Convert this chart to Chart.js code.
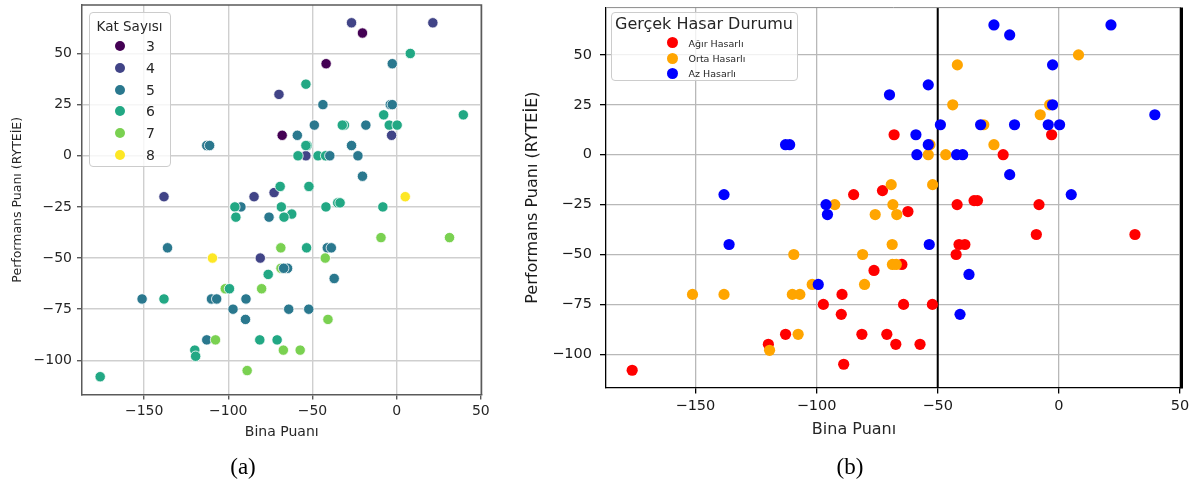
<!DOCTYPE html>
<html>
<head>
<meta charset="utf-8">
<script src="https://cdn.jsdelivr.net/npm/chart.js@4.4.1/dist/chart.umd.min.js"></script>
<style>
  html, body { margin: 0; padding: 0; background: #ffffff; }
  body { position: relative; width: 1195px; height: 488px; overflow: hidden; font-family: "DejaVu Sans", sans-serif; }
  canvas { position: absolute; }
  #chartA { left: 0; top: -20px; }
  #chartB { left: 510px; top: -20px; }
  .legend { position: absolute; box-sizing: border-box; background: rgba(255,255,255,0.8); border: 1px solid #cccccc; border-radius: 4px; }
  .legend .t { position: absolute; white-space: nowrap; transform: translate(-50%, -50%); color: #262626; }
  .legend .m { position: absolute; border-radius: 50%; }
  .legend .l { position: absolute; white-space: nowrap; transform: translateY(-50%); color: #262626; }
  .caption { position: absolute; font-family: "Liberation Serif", "DejaVu Serif", serif; font-size: 23px; color: #000; transform: translate(-50%, -50%); white-space: nowrap; }
  .axtitle { position: absolute; font-size: 16px; color: #262626; transform: translate(-50%, -50%); white-space: nowrap; }
</style>
</head>
<body>
<canvas id="chartA" width="500" height="480"></canvas>
<canvas id="chartB" width="685" height="480"></canvas>
<div class="legend" id="legendA" style="left:89px;top:12px;width:82px;height:155px;"></div>
<div class="legend" id="legendB" style="left:611px;top:12px;width:187px;height:69px;"></div>
<div class="axtitle" style="left:854px;top:428px;">Bina Puanı</div>
<div class="caption" style="left:243px;top:467px;">(a)</div>
<div class="caption" style="left:850px;top:467px;">(b)</div>
<script>
// Building score (x) and performance score (y) per building, grouped by observed damage state.
// Ağır Hasarlı
const agirX = [-84.7, -72.8, -68, -3, -23, -62.3, -42, -35, -33.6, -8.2, -41.2, -38.8, -42.4, -9.3, 31.4,
               -64.8, -64.1, -52.2, -71, -67.3, -57.3, -76.3, -89.5, -97.2, -89.8, -112.8, -81.3, -119.9, -88.8, -176.1];
const agirY = [-20, -18, 10, 10, 0, -28.5, -25, -23, -23, -25, -45, -45, -50, -40, -40,
               -55, -75, -75, -90, -95, -95, -58, -70, -75, -80, -90, -90, -95, -105, -108];
const agirKat = [4, 4, 3, 4, 5, 6, 6, 6, 6, 6, 5, 5, 7, 7, 7,
                 5, 5, 5, 6, 7, 7, 6, 5, 5, 5, 5, 6, 6, 7, 6];
// Orta Hasarlı
const ortaX = [-69.2, 8.1, -41.9, -43.8, -3.8, -7.7, -31, -53.2, -53.9, -46.7, -26.8, -52.1, -68.5, -66.9, -75.8,
               -68.8, -68.7, -67.1, -92.5, -109.4, -81, -101.8, -80.2, -151.2, -138.2, -110, -106.9, -107.6, -119.4];
const ortaY = [-15, 50, 45, 25, 25, 20, 15, 5, 0, 0, 5, -15, -25, -30, -30,
               -45, -55, -55, -25, -50, -50, -65, -65, -70, -70, -70, -70, -90, -98];
const ortaKat = [6, 6, 3, 5, 5, 6, 6, 6, 4, 6, 5, 6, 6, 6, 5,
                 7, 7, 5, 5, 8, 4, 7, 7, 5, 6, 5, 5, 7, 6];
// Az Hasarlı
const azX = [-138.2, -112.8, -111.1, -69.9, -26.8, -20.3, 21.5, -2.6, -53.9, -2.6, 39.6, -48.9, -32.3, -18.3, -4.4,
             0.3, -59, -53.9, -58.6, -42.2, -39.7, -20.3, 5.1, -53.5, -37.1, -40.8, -96.1, -95.5, -136.1, -99.3];
const azY = [-20, 5, 5, 30, 65, 60, 65, 45, 35, 25, 20, 15, 15, 15, 15,
             15, 10, 5, 0, 0, 0, -10, -20, -45, -60, -80, -25, -30, -45, -65];
const azKat = [4, 5, 5, 4, 4, 3, 4, 5, 6, 5, 6, 5, 6, 5, 6,
               6, 5, 6, 6, 6, 5, 5, 8, 6, 5, 7, 6, 6, 5, 6];

const katLevels = [3, 4, 5, 6, 7, 8];
const katColors = ['#440154', '#414487', '#2a788e', '#22a884', '#7ad151', '#fde725'];
const hasarLabels = ['Ağır Hasarlı', 'Orta Hasarlı', 'Az Hasarlı'];
const hasarColors = ['#ff0000', '#ffa500', '#0000ff'];

const xTicks = [-150, -100, -50, 0, 50];
const yTicks = [-100, -75, -50, -25, 0, 25, 50];
const xRange = [-186.9, 50.4];
const yRange = [-116.7, 73.7];
const hasarSiniri = -50;   // vertical reference line on the damage plot

const FONT = '"DejaVu Sans", sans-serif';
const fmt = v => (v < 0 ? '\u2212' + Math.abs(v) : String(v));
const pts = (xs, ys) => xs.map((x, i) => ({ x: x, y: ys[i] }));

// ---------- (a) coloured by storey count ----------
const allX = agirX.concat(ortaX, azX);
const allY = agirY.concat(ortaY, azY);
const allKat = agirKat.concat(ortaKat, azKat);
const allColors = allKat.map(k => katColors[katLevels.indexOf(k)]);

const frameA = {
  id: 'frameA',
  afterDraw(chart) {
    const { ctx, chartArea: a } = chart;
    ctx.save();
    ctx.strokeStyle = '#5a5a5a';
    ctx.lineWidth = 1.5;
    ctx.beginPath();
    ctx.moveTo(a.left, a.top); ctx.lineTo(a.right, a.top); ctx.lineTo(a.right, a.bottom);
    ctx.stroke();
    ctx.restore();
  }
};

new Chart(document.getElementById('chartA'), {
  type: 'scatter',
  data: {
    datasets: [{
      data: pts(allX, allY),
      backgroundColor: allColors,
      borderColor: '#ffffff',
      borderWidth: 0.8,
      pointRadius: 5.2
    }]
  },
  options: {
    responsive: false,
    animation: false,
    events: [],
    layout: { padding: { top: 25, right: 18.5, bottom: 0, left: 0 } },
    plugins: { legend: { display: false }, tooltip: { enabled: false } },
    scales: {
      x: {
        type: 'linear', min: xRange[0], max: xRange[1],
        afterBuildTicks: s => { s.ticks = xTicks.map(v => ({ value: v })); },
        afterFit: s => { s.height = 65.5; },
        ticks: { font: { family: FONT, size: 14 }, color: '#262626', padding: 3, maxRotation: 0, autoSkip: false, callback: fmt },
        grid: { color: '#cfcfcf', lineWidth: 1.4, tickColor: '#5a5a5a', tickLength: 5 },
        border: { color: '#5a5a5a', width: 1.5 },
        title: { display: true, text: 'Bina Puanı', font: { family: FONT, size: 14 }, color: '#262626', padding: { top: 0, bottom: 19 } }
      },
      y: {
        type: 'linear', min: yRange[0], max: yRange[1],
        afterBuildTicks: s => { s.ticks = yTicks.map(v => ({ value: v })); },
        afterFit: s => { s.width = 82; },
        ticks: { font: { family: FONT, size: 14 }, color: '#262626', padding: 5, autoSkip: false, callback: fmt },
        grid: { color: '#cfcfcf', lineWidth: 1.4, tickColor: '#5a5a5a', tickLength: 5 },
        border: { color: '#5a5a5a', width: 1.5 },
        title: { display: true, text: 'Performans Puanı (RYTEİE)', font: { family: FONT, size: 12.5 }, color: '#262626', padding: { top: 10, bottom: 0 } }
      }
    }
  },
  plugins: [frameA]
});

// ---------- (b) coloured by observed damage ----------
const frameB = {
  id: 'frameB',
  beforeDatasetsDraw(chart) {
    const { ctx, chartArea: a, scales: { x } } = chart;
    const px = x.getPixelForValue(hasarSiniri);
    ctx.save();
    ctx.strokeStyle = '#000000';
    ctx.lineWidth = 2;
    ctx.beginPath(); ctx.moveTo(px, a.top); ctx.lineTo(px, a.bottom); ctx.stroke();
    ctx.restore();
  },
  afterDraw(chart) {
    const { ctx, chartArea: a } = chart;
    ctx.save();
    ctx.strokeStyle = '#8a8a8a';
    ctx.lineWidth = 1;
    ctx.beginPath(); ctx.moveTo(a.left, a.top); ctx.lineTo(a.right, a.top); ctx.stroke();
    ctx.strokeStyle = '#000000';
    ctx.lineWidth = 3;
    ctx.beginPath(); ctx.moveTo(a.right + 0.5, a.top); ctx.lineTo(a.right + 0.5, a.bottom + 1); ctx.stroke();
    ctx.restore();
  }
};

const groupX = [agirX, ortaX, azX];
const groupY = [agirY, ortaY, azY];

new Chart(document.getElementById('chartB'), {
  type: 'scatter',
  data: {
    datasets: hasarLabels.map((lab, i) => ({
      label: lab,
      data: pts(groupX[i], groupY[i]),
      backgroundColor: hasarColors[i],
      borderWidth: 0,
      pointRadius: 5.6,
      order: 2 - i
    }))
  },
  options: {
    responsive: false,
    animation: false,
    events: [],
    layout: { padding: { top: 27.6, right: 14, bottom: 0, left: 0 } },
    plugins: { legend: { display: false }, tooltip: { enabled: false } },
    scales: {
      x: {
        type: 'linear', min: xRange[0], max: xRange[1],
        afterBuildTicks: s => { s.ticks = xTicks.map(v => ({ value: v })); },
        afterFit: s => { s.height = 72.4; },
        ticks: { font: { family: FONT, size: 14.5 }, color: '#1a1a1a', padding: 4, maxRotation: 0, autoSkip: false, callback: fmt },
        grid: { color: '#b8b8b8', lineWidth: 1.3, tickColor: '#000000', tickLength: 6 },
        border: { color: '#000000', width: 1.3 }
      },
      y: {
        type: 'linear', min: yRange[0], max: yRange[1],
        afterBuildTicks: s => { s.ticks = yTicks.map(v => ({ value: v })); },
        afterFit: s => { s.width = 96; },
        ticks: { font: { family: FONT, size: 14.5 }, color: '#1a1a1a', padding: 8, autoSkip: false, callback: fmt },
        grid: { color: '#b8b8b8', lineWidth: 1.3, tickColor: '#000000', tickLength: 6 },
        border: { color: '#000000', width: 1.3 },
        title: { display: true, text: 'Performans Puanı (RYTEİE)', font: { family: FONT, size: 16 }, color: '#1a1a1a', padding: { top: 13, bottom: 0 } }
      }
    }
  },
  plugins: [frameB]
});

// ---------- legends ----------
function addEl(parent, cls, text, style) {
  const d = document.createElement('div');
  d.className = cls;
  if (text !== null) d.textContent = text;
  Object.assign(d.style, style);
  parent.appendChild(d);
  return d;
}

const legA = document.getElementById('legendA');
addEl(legA, 't', 'Kat Sayısı', { left: '39.5px', top: '13px', fontSize: '13.5px' });
katLevels.forEach((k, i) => {
  const cy = 33 + i * 21.8;
  addEl(legA, 'm', null, { left: '25px', top: (cy - 5) + 'px', width: '10px', height: '10px', background: katColors[i] });
  addEl(legA, 'l', String(k), { left: '56px', top: cy + 'px', fontSize: '14px' });
});

const legB = document.getElementById('legendB');
addEl(legB, 't', 'Gerçek Hasar Durumu', { left: '92px', top: '10px', fontSize: '16px' });
hasarLabels.forEach((lab, i) => {
  const cy = 29.7 + i * 15.3;
  addEl(legB, 'm', null, { left: (60.7 - 5.5) + 'px', top: (cy - 5.5) + 'px', width: '11px', height: '11px', background: hasarColors[i] });
  addEl(legB, 'l', lab, { left: '76.5px', top: cy + 'px', fontSize: '9.5px' });
});
</script>
</body>
</html>
